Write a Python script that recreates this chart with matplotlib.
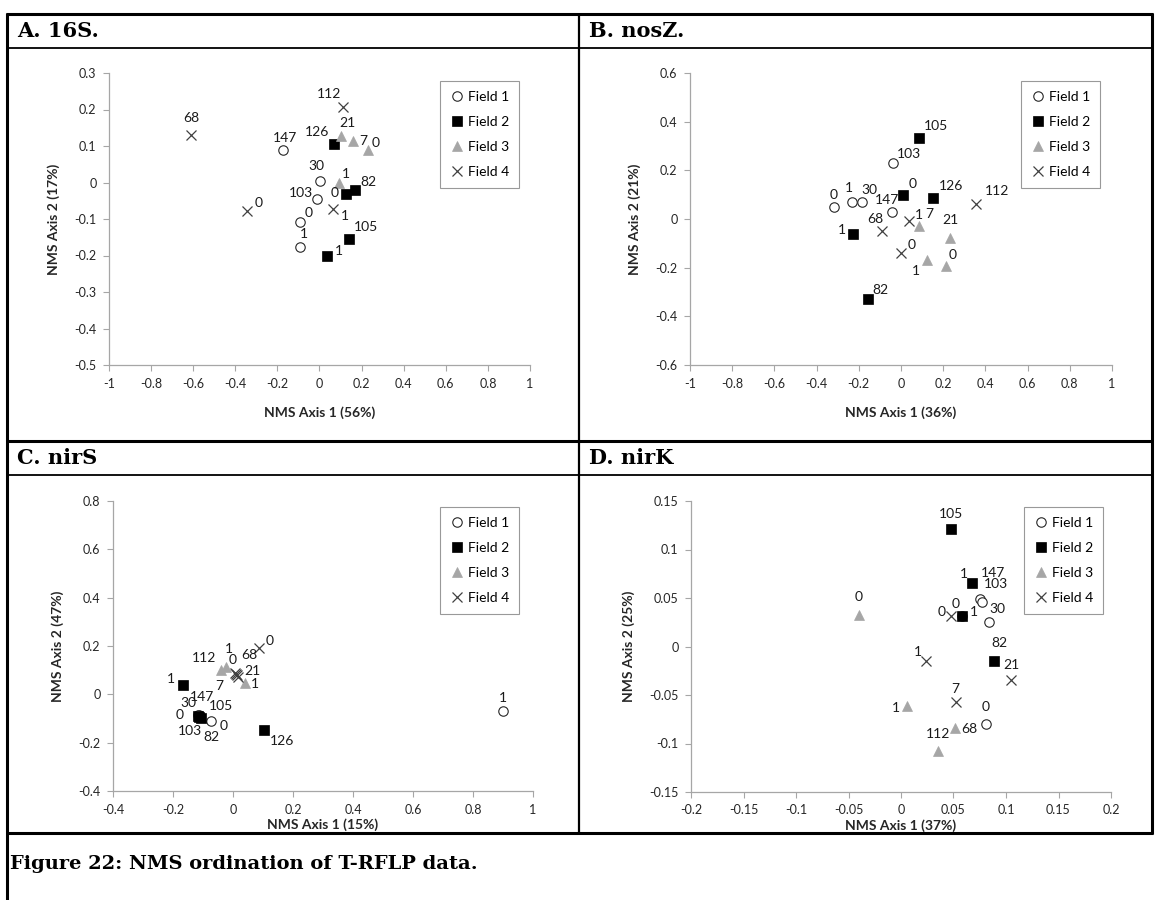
import matplotlib.pyplot as plt
import numpy as np

plt.rcParams['font.family'] = ['Lato', 'DejaVu Sans']

W, H = 1158, 900

# ---------------- data ----------------
fields = ['Field 1', 'Field 2', 'Field 3', 'Field 4']

# A. 16S
a_f1_x = [-0.174, 0.000, -0.011, -0.095, -0.092]
a_f1_y = [0.090, 0.005, -0.046, -0.109, -0.177]
a_f1_lab = ['147', '30', '103', '0', '1']
a_f2_x = [0.068, 0.127, 0.169, 0.139, 0.036]
a_f2_y = [0.105, -0.031, -0.020, -0.154, -0.201]
a_f2_lab = ['126', '0', '82', '105', '1']
a_f3_x = [0.101, 0.161, 0.231, 0.095]
a_f3_y = [0.127, 0.115, 0.090, -0.002]
a_f3_lab = ['21', '7', '0', '1']
a_f4_x = [0.111, -0.610, -0.343, 0.063]
a_f4_y = [0.208, 0.131, -0.077, -0.072]
a_f4_lab = ['112', '68', '0', '1']

# B. nosZ
b_f1_x = [-0.036, -0.318, -0.233, -0.187, -0.043]
b_f1_y = [0.229, 0.049, 0.071, 0.071, 0.029]
b_f1_lab = ['103', '0', '1', '30', '147']
b_f2_x = [0.087, 0.008, 0.150, -0.226, -0.158]
b_f2_y = [0.332, 0.099, 0.088, -0.062, -0.327]
b_f2_lab = ['105', '0', '126', '1', '82']
b_f3_x = [0.084, 0.234, 0.125, 0.214]
b_f3_y = [-0.030, -0.078, -0.169, -0.192]
b_f3_lab = ['7', '21', '1', '0']
b_f4_x = [0.356, 0.036, -0.089, 0.002]
b_f4_y = [0.062, -0.007, -0.049, -0.139]
b_f4_lab = ['112', '1', '68', '0']

# C. nirS
c_f1_x = [-0.113, -0.116, -0.110, -0.072, 0.90]
c_f1_y = [-0.087, -0.085, -0.095, -0.110, -0.070]
c_f1_lab = ['147', '30', '103', '0', '1']
c_f2_x = [-0.166, -0.117, -0.107, -0.112, 0.102]
c_f2_y = [0.040, -0.090, -0.097, -0.093, -0.149]
c_f2_lab = ['1', '0', '105', '82', '126']
c_f3_x = [-0.040, -0.023, 0.040]
c_f3_y = [0.099, 0.113, 0.047]
c_f3_lab = ['112', '1', '1']
c_f4_x = [0.008, 0.013, 0.018, 0.010, 0.086]
c_f4_y = [0.088, 0.079, 0.072, 0.083, 0.193]
c_f4_lab = ['0', '68', '21', '7', '0']

# D. nirK
d_f1_x = [0.075, 0.077, 0.084, 0.058, 0.081]
d_f1_y = [0.049, 0.046, 0.025, 0.031, -0.080]
d_f1_lab = ['147', '103', '30', '1', '0']
d_f2_x = [0.048, 0.068, 0.058, 0.089]
d_f2_y = [0.121, 0.065, 0.031, -0.015]
d_f2_lab = ['105', '1', '0', '82']
d_f3_x = [-0.040, 0.006, 0.051, 0.035]
d_f3_y = [0.032, -0.061, -0.084, -0.108]
d_f3_lab = ['0', '1', '68', '112']
d_f4_x = [0.048, 0.024, 0.105, 0.052]
d_f4_y = [0.031, -0.015, -0.035, -0.057]
d_f4_lab = ['0', '1', '21', '7']

# label offsets (pixels, +y is up), one per point
a_off = [[(2, 12), (-3, 15), (-16, 6), (9, 9), (4, 13)],
         [(-17, 12), (-12, 1), (13, 8), (17, 12), (12, 5)],
         [(7, 13), (10, 0), (7, 7), (6, 9)],
         [(-14, 13), (0, 17), (11, 8), (12, -7)]]
b_off = [[(16, 9), (0, 12), (-3, 14), (8, 12), (-5, 12)],
         [(17, 12), (10, 11), (18, 12), (-11, 4), (13, 9)],
         [(11, 12), (0, 18), (-11, -11), (6, 11)],
         [(21, 13), (10, 6), (-7, 12), (10, 8)]]
c_off = [[(3, 18), (-10, 12), (-10, -14), (12, -5), (0, 13)],
         [(-12, 6), (-18, 1), (20, 12), (12, -20), (18, -11)],
         [(-17, 12), (3, 18), (10, -1)],
         [(-3, 13), (12, 20), (14, 6), (-17, -12), (11, 7)]]
d_off = [[(13, 26), (14, 18), (8, 13), (12, 4), (0, 17)],
         [(0, 15), (-8, 9), (-6, 12), (5, 18)],
         [(0, 18), (-11, -2), (15, -1), (0, 17)],
         [(-10, 4), (-8, 9), (0, 15), (0, 13)]]

# ---------------- styles ----------------
styles = [dict(marker='o', mfc='white', mec='#262626', mew=0.8, ms=6.8),
          dict(marker='s', mfc='black', mec='black', mew=0.5, ms=7),
          dict(marker='^', mfc='#A6A6A6', mec='#A6A6A6', mew=0.5, ms=7.5),
          dict(marker='x', mfc='none', mec='#404040', mew=0.9, ms=7)]

fig = plt.figure(figsize=(W / 100, H / 100), dpi=100)

# background axes in pixel coords for the table frame and headers
bg = fig.add_axes([0, 0, 1, 1])
bg.set_xlim(0, W)
bg.set_ylim(H, 0)
bg.axis('off')

def hline(y, x0, x1, lw):
    bg.plot([x0, x1], [y, y], color='black', lw=lw, solid_capstyle='butt')

def vline(x, y0, y1, lw):
    bg.plot([x, x], [y0, y1], color='black', lw=lw, solid_capstyle='butt')

hline(14, 6, 1153, 2.2)
hline(48, 6, 1153, 1.3)
hline(441, 6, 1153, 2.2)
hline(475, 6, 1153, 1.3)
hline(833, 6, 1153, 2.2)
vline(7, 13, 900, 2.2)
vline(1152, 13, 834, 2.2)
vline(579, 13, 834, 1.6)

head_font = dict(family='DejaVu Serif', fontweight='bold', va='center', ha='left')
bg.text(17, 31, 'A. 16S.', fontsize=15, **head_font)
bg.text(589, 31, 'B. nosZ.', fontsize=15, **head_font)
bg.text(17, 458, 'C. nirS', fontsize=15, **head_font)
bg.text(589, 458, 'D. nirK', fontsize=15, **head_font)
bg.text(10, 864, 'Figure 22: NMS ordination of T-RFLP data.', fontsize=14, **head_font)


def fmt(v):
    v = round(v, 3)
    if abs(v) < 1e-9:
        return '0'
    return f'{v:g}'


def panel(box, xlim, xstep, ylim, ystep, series, offs, xlab, ylab, leg_xy, xpad):
    l, t, r, b = box
    ax = fig.add_axes([l / W, 1 - b / H, (r - l) / W, (b - t) / H])
    ax.set_xlim(*xlim)
    ax.set_ylim(*ylim)
    xt = np.arange(xlim[0], xlim[1] + xstep / 2, xstep)
    yt = np.arange(ylim[0], ylim[1] + ystep / 2, ystep)
    ax.set_xticks(xt, [fmt(v) for v in xt])
    ax.set_yticks(yt, [fmt(v) for v in yt])
    for s in ['top', 'right']:
        ax.spines[s].set_visible(False)
    for s in ['left', 'bottom']:
        ax.spines[s].set_color('#A6A6A6')
        ax.spines[s].set_linewidth(0.9)
    ax.tick_params(direction='out', length=4, width=0.8, color='#A6A6A6',
                   labelcolor='#262626', labelsize=9, pad=5)
    ax.patch.set_alpha(0)
    handles = []
    for (xs, ys, labs), off, st, name in zip(series, offs, styles, fields):
        h, = ax.plot(xs, ys, ls='none', label=name, **st)
        handles.append(h)
        for x, y, lab, (dx, dy) in zip(xs, ys, labs, off):
            ax.annotate(lab, (x, y), xytext=(dx, dy), textcoords='offset pixels',
                        ha='center', va='center', fontsize=10, color='#1a1a1a')
    ax.set_xlabel(xlab, fontsize=10, fontweight='bold', color='#262626', labelpad=xpad)
    ax.set_ylabel(ylab, fontsize=10, fontweight='bold', color='#262626', labelpad=10)
    leg = ax.legend(handles=handles, loc='upper left',
                    bbox_to_anchor=(leg_xy[0] / W, 1 - leg_xy[1] / H),
                    bbox_transform=fig.transFigure, fontsize=10, frameon=True,
                    fancybox=False, borderpad=0.7, labelspacing=0.95,
                    handlelength=1.0, handletextpad=0.3, borderaxespad=0)
    leg.get_frame().set_edgecolor('#808080')
    leg.get_frame().set_linewidth(0.8)
    return ax


panel((109, 73, 530, 365), (-1, 1), 0.2, (-0.5, 0.3), 0.1,
      [(a_f1_x, a_f1_y, a_f1_lab), (a_f2_x, a_f2_y, a_f2_lab),
       (a_f3_x, a_f3_y, a_f3_lab), (a_f4_x, a_f4_y, a_f4_lab)],
      a_off, 'NMS Axis 1 (56%)', 'NMS Axis 2 (17%)', (440, 81), 12)

panel((690, 73, 1112, 365), (-1, 1), 0.2, (-0.6, 0.6), 0.2,
      [(b_f1_x, b_f1_y, b_f1_lab), (b_f2_x, b_f2_y, b_f2_lab),
       (b_f3_x, b_f3_y, b_f3_lab), (b_f4_x, b_f4_y, b_f4_lab)],
      b_off, 'NMS Axis 1 (36%)', 'NMS Axis 2 (21%)', (1021, 81), 12)

panel((113, 501, 533, 791), (-0.4, 1), 0.2, (-0.4, 0.8), 0.2,
      [(c_f1_x, c_f1_y, c_f1_lab), (c_f2_x, c_f2_y, c_f2_lab),
       (c_f3_x, c_f3_y, c_f3_lab), (c_f4_x, c_f4_y, c_f4_lab)],
      c_off, 'NMS Axis 1 (15%)', 'NMS Axis 2 (47%)', (440, 507), 2)

panel((691, 501, 1111, 792), (-0.2, 0.2), 0.05, (-0.15, 0.15), 0.05,
      [(d_f1_x, d_f1_y, d_f1_lab), (d_f2_x, d_f2_y, d_f2_lab),
       (d_f3_x, d_f3_y, d_f3_lab), (d_f4_x, d_f4_y, d_f4_lab)],
      d_off, 'NMS Axis 1 (37%)', 'NMS Axis 2 (25%)', (1024, 507), 2)

fig.savefig('out.png', dpi=100)
